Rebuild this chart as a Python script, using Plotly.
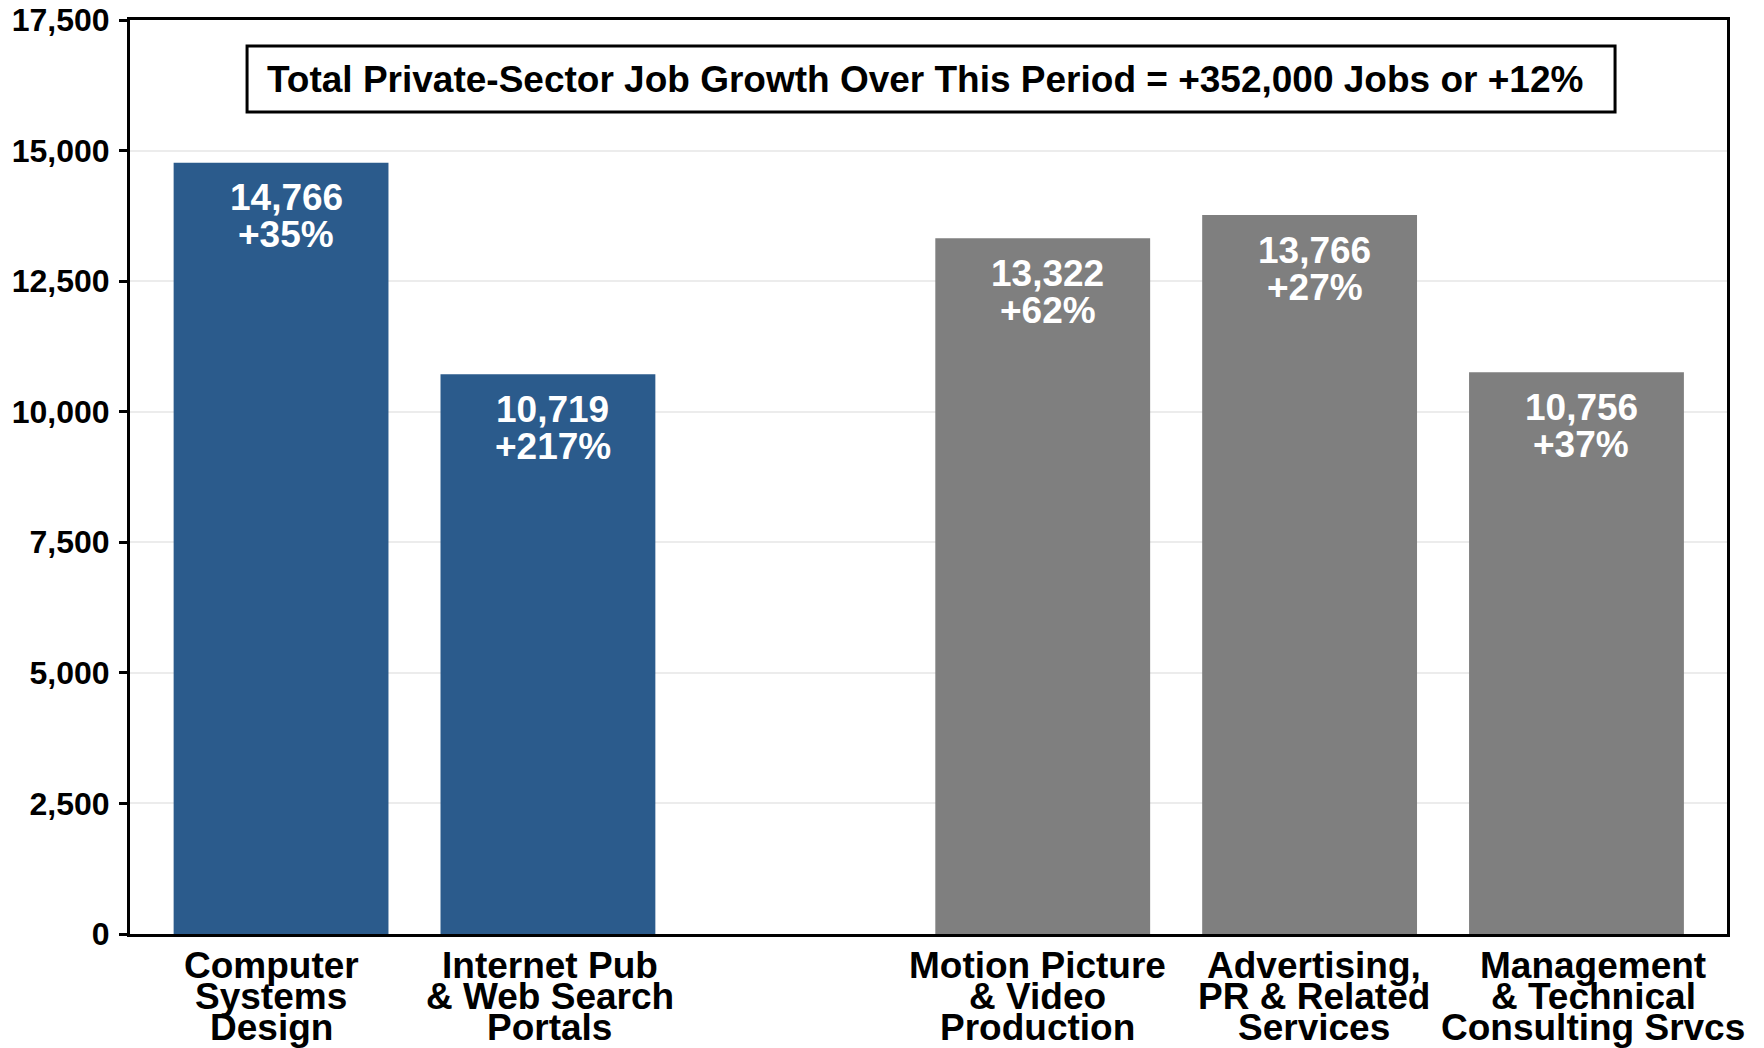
import plotly.graph_objects as go

# Sector data: jobs added and percentage growth over the period
categories = [
    "Computer<br>Systems<br>Design",
    "Internet Pub<br>& Web Search<br>Portals",
    "Motion Picture<br>& Video<br>Production",
    "Advertising,<br>PR & Related<br>Services",
    "Management<br>& Technical<br>Consulting Srvcs",
]
jobs_added = [14766, 10719, 13322, 13766, 10756]
pct_growth = [35, 217, 62, 27, 37]
sector_group = [0, 0, 1, 1, 1]          # 0 = tech sectors, 1 = other sectors
y_ticks = [0, 2500, 5000, 7500, 10000, 12500, 15000, 17500]
headline = "Total Private-Sector Job Growth Over This Period = +352,000 Jobs or +12%"

GROUP_COLORS = ["#2B5B8C", "#7F7F7F"]
GROUP_GAP = 0.854
FONT = "Liberation Sans, Arial, Helvetica, sans-serif"
# small horizontal nudges (px) for the category captions
LABEL_NUDGE = [-10, 2, -5, 4, 17]

positions = [i + GROUP_GAP * g for i, g in enumerate(sector_group)]
colors = [GROUP_COLORS[g] for g in sector_group]

fig = go.Figure()
fig.add_trace(go.Bar(
    x=positions,
    y=jobs_added,
    width=0.805,
    marker=dict(color=colors, line=dict(width=0)),
    hoverinfo="skip",
))

annotations = []
# value + growth labels inside the top of each bar
for pos, val, pct in zip(positions, jobs_added, pct_growth):
    for text, shift in ((f"{val:,}", -35), (f"+{pct}%", -72)):
        annotations.append(dict(
            x=pos, y=val, xref="x", yref="y", text=text, showarrow=False,
            xanchor="center", yanchor="middle", xshift=5, yshift=shift,
            font=dict(family=FONT, size=37, color="white", weight="bold"),
        ))

# multi-line category labels under the axis, tightly spaced
for pos, cat, nudge in zip(positions, categories, LABEL_NUDGE):
    for k, line in enumerate(cat.split("<br>")):
        annotations.append(dict(
            x=pos, y=0, xref="x", yref="paper", text=line, showarrow=False,
            xanchor="center", yanchor="middle", xshift=nudge, yshift=-31 - 31 * k,
            font=dict(family=FONT, size=37, color="black", weight="bold"),
        ))

# headline inside a framed box
annotations.append(dict(
    x=0.498, y=0.9354, xref="paper", yref="paper", text=headline,
    showarrow=False, xanchor="center", yanchor="middle",
    font=dict(family=FONT, size=37, color="black", weight="bold"),
))

fig.update_layout(
    width=1764,
    height=1048,
    margin=dict(l=130, r=37, t=20, b=114, autoexpand=False),
    paper_bgcolor="white",
    plot_bgcolor="white",
    showlegend=False,
    annotations=annotations,
    shapes=[dict(
        type="rect", xref="paper", yref="paper",
        x0=0.0733, x1=0.9299, y0=0.8993, y1=0.9716,
        line=dict(color="black", width=3), fillcolor="white", layer="below",
    )],
    xaxis=dict(
        range=[-0.566, 5.418],
        automargin=False,
        showticklabels=False,
        showgrid=False,
        zeroline=False,
        showline=True,
        linecolor="black",
        linewidth=3,
        mirror=True,
        ticks="",
    ),
    yaxis=dict(
        range=[0, 17500],
        automargin=False,
        tickvals=y_ticks,
        ticktext=[f"{v:,}" for v in y_ticks],
        showgrid=True,
        gridcolor="#ececec",
        gridwidth=2,
        zeroline=False,
        showline=True,
        linecolor="black",
        linewidth=3,
        mirror=True,
        ticks="outside",
        ticklen=8,
        tickwidth=3,
        tickcolor="black",
        ticklabelstandoff=3,
        tickfont=dict(family=FONT, size=32, color="black", weight="bold"),
    ),
)

fig.write_html("out.html")
